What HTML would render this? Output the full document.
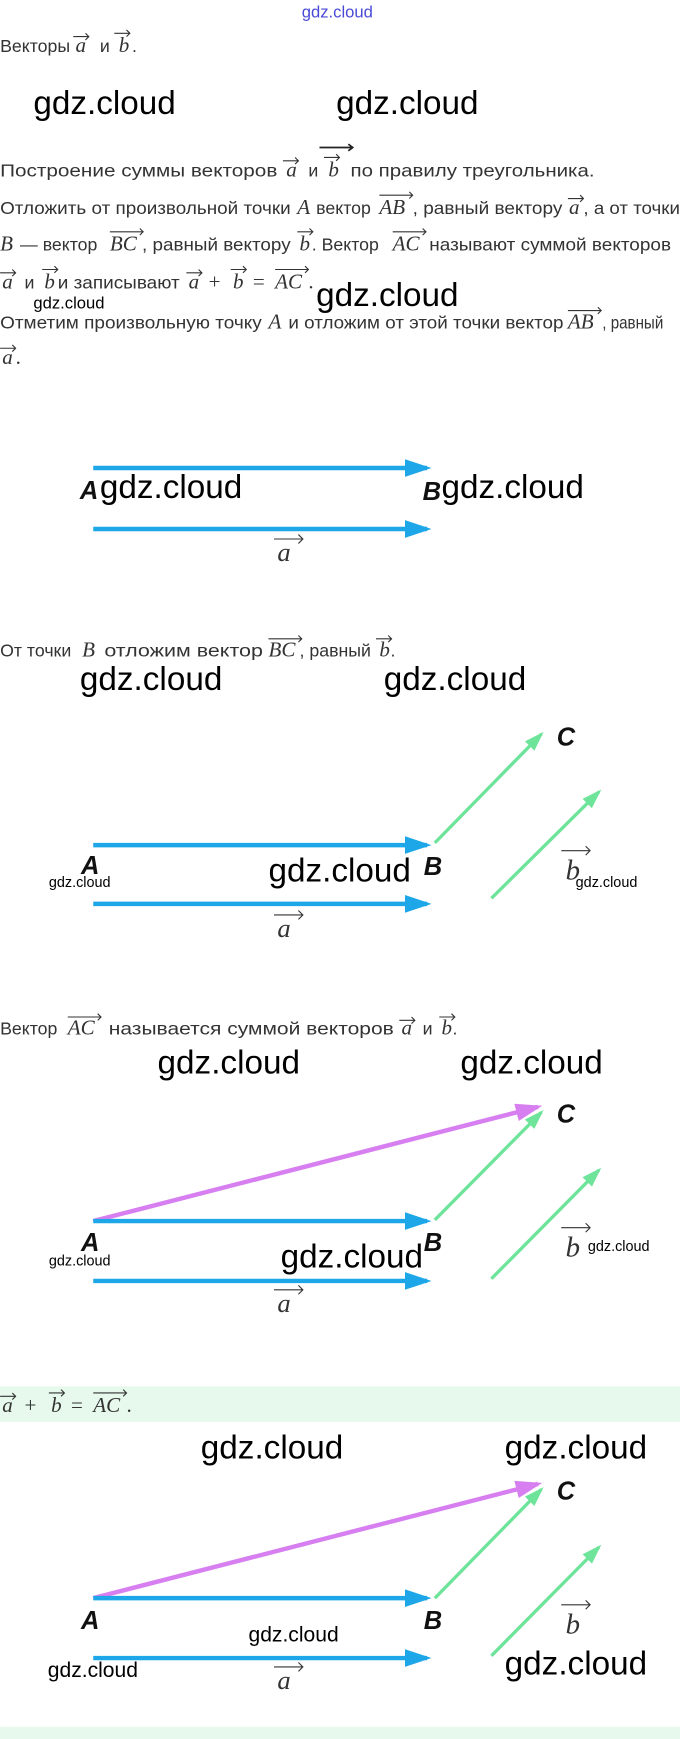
<!DOCTYPE html>
<html><head><meta charset="utf-8"><style>
html,body{margin:0;padding:0;background:#fff;}
svg{display:block;}
.t{font-family:"Liberation Sans",sans-serif;font-size:16px;fill:#333;}
.m{font-family:"Liberation Serif",serif;font-style:italic;font-size:19px;fill:#333;}
.ms{font-family:"Liberation Serif",serif;font-size:19px;fill:#333;}
.w{font-family:"Liberation Sans",sans-serif;font-size:30px;fill:#000;}
.ws{font-family:"Liberation Sans",sans-serif;font-size:13px;fill:#000;}
.L{font-family:"Liberation Sans",sans-serif;font-weight:bold;font-style:italic;font-size:23px;fill:#111;}
.va{fill:none;stroke:#333;stroke-width:1;}
</style></head><body>
<svg width="680" height="1739" viewBox="0 0 613 1568" xmlns="http://www.w3.org/2000/svg">
<defs>
<marker id="hb" markerWidth="6" markerHeight="4" refX="5" refY="2" orient="auto"><path d="M0,0 L6,2 L0,4 z" fill="#1ea7e8"/></marker>
<marker id="hg" markerWidth="6" markerHeight="4" refX="5" refY="2" orient="auto"><path d="M0,0 L6,2 L0,4 z" fill="#6ee39a"/></marker>
<marker id="hp" markerWidth="6" markerHeight="4" refX="5" refY="2" orient="auto"><path d="M0,0 L6,2 L0,4 z" fill="#d77ff0"/></marker>
</defs>
<rect x="0" y="1250" width="613" height="32" fill="#e6f9ec"/>
<rect x="0" y="1557" width="613" height="11" fill="#e6f9ec"/>
<text x="272" y="16" style="font-family:'Liberation Sans',sans-serif;font-size:15px;fill:#4a4ad8">gdz.cloud</text>

<text class="t" x="0" y="47">Векторы</text><text class="m" x="68" y="47">a</text><text class="t" x="90" y="47">и</text><text class="m" x="107" y="47">b</text><text class="t" x="119" y="47">.</text>
<path class="va" d="M66,33h14m-3,-3l3,3l-3,3M103,30h14m-3,-3l3,3l-3,3"/>
<text class="w" x="30" y="103">gdz.cloud</text><text class="w" x="303" y="103">gdz.cloud</text>

<text class="t" x="0" y="159" textLength="250" lengthAdjust="spacingAndGlyphs">Построение суммы векторов</text><text class="m" x="258" y="159">a</text><text class="t" x="278" y="159">и</text><text class="m" x="296" y="159">b</text><text class="t" x="316" y="159" textLength="220" lengthAdjust="spacingAndGlyphs">по правилу треугольника.</text>
<path class="va" d="M255,145h14m-3,-3l3,3l-3,3M292,142h14m-3,-3l3,3l-3,3"/>
<path d="M288,133h30m-4,-3l4,3l-4,3" fill="none" stroke="#222" stroke-width="1.5"/>

<text class="t" x="0" y="193" textLength="262" lengthAdjust="spacingAndGlyphs">Отложить от произвольной точки</text><text class="m" x="268" y="193">A</text><text class="t" x="285" y="193">вектор</text><text class="m" x="342" y="193">AB</text><text class="t" x="372" y="193" textLength="135" lengthAdjust="spacingAndGlyphs">, равный вектору</text><text class="m" x="513" y="193">a</text><text class="t" x="526" y="193" textLength="87" lengthAdjust="spacingAndGlyphs">, а от точки</text>
<path class="va" d="M342,176h30m-3,-3l3,3l-3,3M512,179h14m-3,-3l3,3l-3,3"/>

<text class="m" x="0" y="226">B</text><text class="t" x="18" y="226">— вектор</text><text class="m" x="99" y="226">BC</text><text class="t" x="128" y="226" textLength="134" lengthAdjust="spacingAndGlyphs">, равный вектору</text><text class="m" x="270" y="226">b</text><text class="t" x="281" y="226">. Вектор</text><text class="m" x="354" y="226">AC</text><text class="t" x="387" y="226" textLength="218" lengthAdjust="spacingAndGlyphs">называют суммой векторов</text>
<path class="va" d="M99,209h30m-3,-3l3,3l-3,3M268,209h14m-3,-3l3,3l-3,3M354,209h30m-3,-3l3,3l-3,3"/>

<text class="m" x="2" y="260">a</text><text class="t" x="22" y="260">и</text><text class="m" x="40" y="260">b</text><text class="t" x="52" y="260" textLength="110" lengthAdjust="spacingAndGlyphs">и записывают</text><text class="m" x="170" y="260">a</text><text class="ms" x="188" y="260">+</text><text class="m" x="210" y="260">b</text><text class="ms" x="228" y="260">=</text><text class="m" x="248" y="260">AC</text><text class="ms" x="278" y="260">.</text>
<path class="va" d="M0,246h14m-3,-3l3,3l-3,3M38,243h14m-3,-3l3,3l-3,3M168,246h14m-3,-3l3,3l-3,3M208,243h14m-3,-3l3,3l-3,3M248,243h30m-3,-3l3,3l-3,3"/>
<text class="w" x="285" y="276">gdz.cloud</text><text class="ws" x="30" y="278" style="font-size:15px">gdz.cloud</text>

<text class="t" x="0" y="296" textLength="236" lengthAdjust="spacingAndGlyphs">Отметим произвольную точку</text><text class="m" x="242" y="296">A</text><text class="t" x="260" y="296" textLength="248" lengthAdjust="spacingAndGlyphs">и отложим от этой точки вектор</text><text class="m" x="512" y="296">AB</text><text class="t" x="543" y="296" textLength="55" lengthAdjust="spacingAndGlyphs">, равный</text>
<path class="va" d="M512,280h30m-3,-3l3,3l-3,3"/>
<text class="m" x="2" y="328">a</text><text class="ms" x="14" y="328">.</text>
<path class="va" d="M0,314h14m-3,-3l3,3l-3,3"/>

<line x1="84" y1="422" x2="385" y2="422" stroke="#1ea7e8" stroke-width="4" marker-end="url(#hb)"/>
<line x1="84" y1="477" x2="385" y2="477" stroke="#1ea7e8" stroke-width="4" marker-end="url(#hb)"/>
<text class="L" x="72" y="450">A</text><text class="L" x="381" y="451">B</text>
<text class="w" x="90" y="449">gdz.cloud</text><text class="w" x="398" y="449">gdz.cloud</text>
<text class="m" x="250" y="506" style="font-size:24px">a</text><path class="va" d="M247,486h26m-4,-4l4,4l-4,4"/>

<text class="t" x="0" y="592">От точки</text><text class="m" x="74" y="592">B</text><text class="t" x="94" y="592" textLength="143" lengthAdjust="spacingAndGlyphs">отложим вектор</text><text class="m" x="242" y="592">BC</text><text class="t" x="270" y="592">, равный</text><text class="m" x="342" y="592">b</text><text class="t" x="352" y="592">.</text>
<path class="va" d="M242,576h30m-3,-3l3,3l-3,3M339,576h14m-3,-3l3,3l-3,3"/>
<text class="w" x="72" y="622">gdz.cloud</text><text class="w" x="346" y="622">gdz.cloud</text>

<line x1="84" y1="762" x2="385" y2="762" stroke="#1ea7e8" stroke-width="4" marker-end="url(#hb)"/>
<line x1="84" y1="815" x2="385" y2="815" stroke="#1ea7e8" stroke-width="4" marker-end="url(#hb)"/>
<line x1="392" y1="760" x2="488" y2="662" stroke="#6ee39a" stroke-width="3" marker-end="url(#hg)"/>
<line x1="443" y1="810" x2="540" y2="714" stroke="#6ee39a" stroke-width="3" marker-end="url(#hg)"/>
<text class="L" x="502" y="672">C</text><text class="L" x="73" y="788">A</text><text class="L" x="382" y="789">B</text>
<text class="ws" x="44" y="800">gdz.cloud</text><text class="w" x="242" y="795">gdz.cloud</text><text class="ws" x="519" y="800">gdz.cloud</text>
<text class="m" x="510" y="793" style="font-size:26px">b</text><path class="va" d="M506,767h26m-4,-4l4,4l-4,4"/>
<text class="m" x="250" y="845" style="font-size:24px">a</text><path class="va" d="M247,825h26m-4,-4l4,4l-4,4"/>

<text class="t" x="0" y="933">Вектор</text><text class="m" x="61" y="933">AC</text><text class="t" x="98" y="933" textLength="257" lengthAdjust="spacingAndGlyphs">называется суммой векторов</text><text class="m" x="362" y="933">a</text><text class="t" x="381" y="933">и</text><text class="m" x="398" y="933">b</text><text class="t" x="408" y="933">.</text>
<path class="va" d="M61,917h30m-3,-3l3,3l-3,3M360,920h14m-3,-3l3,3l-3,3M396,917h14m-3,-3l3,3l-3,3"/>
<text class="w" x="142" y="968">gdz.cloud</text><text class="w" x="415" y="968">gdz.cloud</text>

<line x1="84" y1="1101" x2="485" y2="998" stroke="#d77ff0" stroke-width="4" marker-end="url(#hp)"/>
<line x1="84" y1="1101" x2="385" y2="1101" stroke="#1ea7e8" stroke-width="4" marker-end="url(#hb)"/>
<line x1="84" y1="1155" x2="385" y2="1155" stroke="#1ea7e8" stroke-width="4" marker-end="url(#hb)"/>
<line x1="392" y1="1100" x2="488" y2="1003" stroke="#6ee39a" stroke-width="3" marker-end="url(#hg)"/>
<line x1="443" y1="1153" x2="540" y2="1055" stroke="#6ee39a" stroke-width="3" marker-end="url(#hg)"/>
<text class="L" x="502" y="1012">C</text><text class="L" x="73" y="1128">A</text><text class="L" x="382" y="1128">B</text>
<text class="ws" x="44" y="1141">gdz.cloud</text><text class="w" x="253" y="1143">gdz.cloud</text><text class="ws" x="530" y="1128">gdz.cloud</text>
<text class="m" x="510" y="1133" style="font-size:26px">b</text><path class="va" d="M506,1107h26m-4,-4l4,4l-4,4"/>
<text class="m" x="250" y="1183" style="font-size:24px">a</text><path class="va" d="M247,1163h26m-4,-4l4,4l-4,4"/>

<text class="m" x="2" y="1273">a</text><text class="ms" x="22" y="1273">+</text><text class="m" x="46" y="1273">b</text><text class="ms" x="64" y="1273">=</text><text class="m" x="84" y="1273">AC</text><text class="ms" x="114" y="1273">.</text>
<path class="va" d="M0,1259h14m-3,-3l3,3l-3,3M44,1256h14m-3,-3l3,3l-3,3M84,1256h30m-3,-3l3,3l-3,3"/>
<text class="w" x="181" y="1315">gdz.cloud</text><text class="w" x="455" y="1315">gdz.cloud</text>

<line x1="84" y1="1441" x2="485" y2="1338" stroke="#d77ff0" stroke-width="4" marker-end="url(#hp)"/>
<line x1="84" y1="1441" x2="385" y2="1441" stroke="#1ea7e8" stroke-width="4" marker-end="url(#hb)"/>
<line x1="84" y1="1495" x2="385" y2="1495" stroke="#1ea7e8" stroke-width="4" marker-end="url(#hb)"/>
<line x1="392" y1="1441" x2="488" y2="1343" stroke="#6ee39a" stroke-width="3" marker-end="url(#hg)"/>
<line x1="443" y1="1493" x2="540" y2="1395" stroke="#6ee39a" stroke-width="3" marker-end="url(#hg)"/>
<text class="L" x="73" y="1469">A</text><text class="L" x="382" y="1469">B</text><text class="L" x="502" y="1352">C</text>
<text class="ws" x="224" y="1480" style="font-size:19px">gdz.cloud</text><text class="ws" x="43" y="1512" style="font-size:19px">gdz.cloud</text><text class="w" x="455" y="1510">gdz.cloud</text>
<text class="m" x="510" y="1473" style="font-size:26px">b</text><path class="va" d="M506,1447h26m-4,-4l4,4l-4,4"/>
<text class="m" x="250" y="1523" style="font-size:24px">a</text><path class="va" d="M247,1503h26m-4,-4l4,4l-4,4"/>
</svg>
</body></html>
